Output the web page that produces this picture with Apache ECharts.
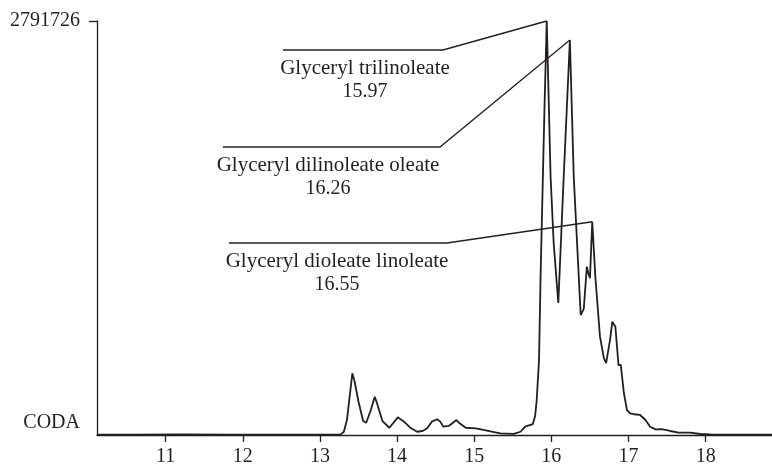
<!DOCTYPE html>
<html lang="en">
<head>
    <meta charset="UTF-8">
    <title>CODA chromatogram</title>
    <script src="https://cdn.jsdelivr.net/npm/echarts@6/dist/echarts.min.js"></script>
    <style>
        html, body { margin: 0; padding: 0; background: #fff; }
        #chart { width: 772px; height: 469px; }
    </style>
</head>
<body>
    <div id="chart"></div>
    <script>
        // retention time (min) and CODA response
        var retTime = [10.11, 10.6, 11.2, 11.8, 12.4, 13.0, 13.27, 13.31, 13.35, 13.42, 13.45, 13.50, 13.56, 13.60,
            13.66, 13.71, 13.74, 13.81, 13.90, 14.01, 14.09, 14.17, 14.26, 14.33, 14.39, 14.45, 14.52, 14.56,
            14.60, 14.67, 14.77, 14.81, 14.89, 15.02, 15.12, 15.21, 15.34, 15.51, 15.60, 15.66, 15.76, 15.79,
            15.81, 15.84, 15.86, 15.89, 15.91, 15.94, 15.99, 16.03, 16.09, 16.16, 16.24, 16.29, 16.38, 16.42,
            16.46, 16.48, 16.50, 16.53, 16.57, 16.63, 16.68, 16.71, 16.76, 16.79, 16.83, 16.87, 16.90, 16.94,
            16.98, 17.02, 17.07, 17.15, 17.22, 17.28, 17.35, 17.43, 17.54, 17.65, 17.80, 17.93, 18.06, 18.4, 18.86];
        var response = [3000, 2500, 3500, 2800, 3200, 3000, 4000, 22000, 101000, 416000, 359000, 224000, 94000, 83000,
            169000, 258000, 214000, 94000, 49000, 119000, 90000, 49000, 22000, 27000, 45000, 90000, 106000, 90000,
            56000, 61000, 101000, 79000, 49000, 45000, 34000, 25000, 11000, 7000, 22000, 56000, 74000, 130000,
            236000, 506000, 1067000, 1742000, 2192000, 2791726, 1742000, 1293000, 890000, 1742000, 2663000, 1742000, 809000, 850000,
            1135000, 1090000, 1057000, 1438000, 1067000, 663000, 520000, 484000, 640000, 764000, 730000, 472000, 472000, 283000,
            168000, 146000, 140000, 135000, 101000, 56000, 38000, 40000, 27000, 15500, 15500, 6700, 3500, 2500, 2000];

        var xTicks = [11, 12, 13, 14, 15, 16, 17, 18];
        var yMax = 2791726;

        var peakNames = ['Glyceryl trilinoleate', 'Glyceryl dilinoleate oleate', 'Glyceryl dioleate linoleate'];
        var peakTimes = ['15.97', '16.26', '16.55'];

        // where each label block sits (px): leader start/end x, leader y, text centre x
        var labelLayout = [
            { x0: 283, x1: 443, y: 50, tx: 365 },
            { x0: 223, x1: 440, y: 147, tx: 328 },
            { x0: 229, x1: 447, y: 243, tx: 337 }
        ];

        var ink = '#231f20';
        var serif = 'Liberation Serif';

        var seriesData = retTime.map(function (t, i) { return [t, response[i]]; });

        var chart = echarts.init(document.getElementById('chart'));

        var option = {
            animation: false,
            grid: { left: 97, right: 0, top: 21, bottom: 34, containLabel: false },
            xAxis: {
                type: 'value',
                min: 10.11,
                max: 18.86,
                axisLine: { lineStyle: { color: ink, width: 1.3 } },
                axisTick: { show: true, length: 7, inside: false, customValues: xTicks, lineStyle: { color: ink, width: 1.3 } },
                axisLabel: { customValues: xTicks, color: ink, fontFamily: serif, fontSize: 20, margin: 12 },
                splitLine: { show: false }
            },
            yAxis: {
                type: 'value',
                min: 0,
                max: yMax,
                axisLine: { show: true, lineStyle: { color: ink, width: 1.3 } },
                axisTick: { show: true, length: 8, customValues: [yMax], lineStyle: { color: ink, width: 1.3 } },
                axisLabel: {
                    customValues: [0, yMax],
                    color: ink,
                    fontFamily: serif,
                    fontSize: 20,
                    margin: 17,
                    formatter: function (v) {
                        return v === 0 ? '{c|CODA}' : String(v);
                    },
                    rich: {
                        c: { fontFamily: serif, fontSize: 20, color: ink, padding: [0, 0, 24, 0] }
                    }
                },
                splitLine: { show: false }
            },
            series: [{
                type: 'line',
                data: seriesData,
                symbol: 'none',
                lineStyle: { color: ink, width: 1.8 }
            }]
        };

        chart.setOption(option);

        // leader lines go from each label to the top of its peak
        function peakPoint(rt) {
            var best = null;
            seriesData.forEach(function (p) {
                if (Math.abs(p[0] - rt) < 0.06 && (!best || p[1] > best[1])) best = p;
            });
            return chart.convertToPixel({ gridIndex: 0 }, best);
        }

        var graphics = [];
        peakTimes.forEach(function (t, i) {
            var L = labelLayout[i];
            var tip = peakPoint(parseFloat(t));
            graphics.push({
                type: 'polyline',
                shape: { points: [[L.x0, L.y], [L.x1, L.y], tip] },
                style: { stroke: ink, lineWidth: 1.3, fill: null },
                z: 10
            });
            graphics.push({
                type: 'text',
                x: L.tx, y: L.y + 18,
                style: { text: peakNames[i], fill: ink, font: '21px "' + serif + '"', align: 'center', verticalAlign: 'middle' }
            });
            graphics.push({
                type: 'text',
                x: L.tx, y: L.y + 42,
                style: { text: t, fill: ink, font: '20px "' + serif + '"', align: 'center', verticalAlign: 'middle' }
            });
        });
        chart.setOption({ graphic: graphics });
    </script>
</body>
</html>
